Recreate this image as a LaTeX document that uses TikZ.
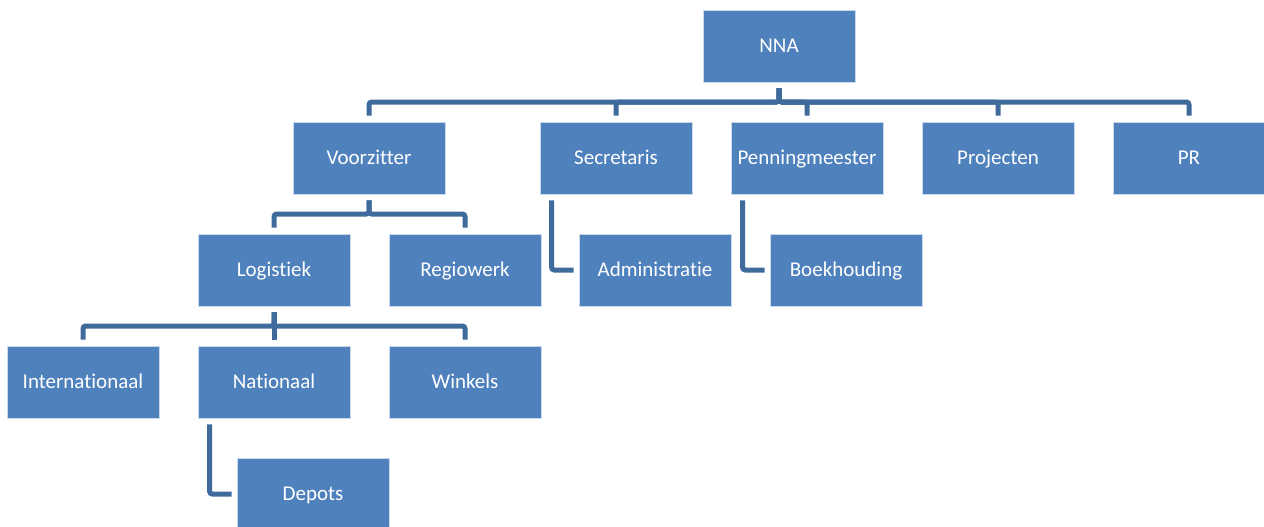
\documentclass[tikz,border=0pt]{standalone}
\usepackage{fontspec}
\setmainfont{Carlito}[Ligatures=NoCommon]
\definecolor{boxblue}{HTML}{4F81BD}
\definecolor{lineblue}{HTML}{3F6B9C}
\tikzset{
	every picture/.append style={font=\fontsize{15.75}{19}\selectfont},
	mynode/.style = {rectangle, draw=white!70!boxblue, line width=0.6pt, fill=boxblue, text=white, minimum width=114pt, minimum height=54pt, inner sep=0pt, text height=12pt, text depth=2pt, align=center},
	myedge/.style = {draw=lineblue, line width=3.75pt, rounded corners=2pt},
	sideedge/.style = {myedge, shorten >=3.75pt}
}

\begin{document}
\begin{tikzpicture}[x=0.75pt,y=-0.75pt]
				\useasboundingbox (0,0) rectangle (1264,526);
				\node[mynode] at (779,46) (nna) {NNA};
				\node[mynode] at (369,158) (voorz) {Voorzitter};
				\node[mynode] at (616,158) (secr) {Secretaris};
				\node[mynode] at (807,158) (penn) {Penningmeester};
				\node[mynode] at (998,158) (proj) {Projecten};
				\node[mynode] at (1189,158) (pr) {PR};
				\node[mynode] at (274,270) (logi) {Logistiek};
				\node[mynode] at (465,270) (regio) {Regiowerk};
				\node[mynode] at (655,270) (admin) {Administratie};
				\node[mynode] at (846,270) (boek) {Boekhouding};
				\node[mynode] at (83,382) (inter) {Internationaal};
				\node[mynode] at (274,382) (nati) {Nationaal};
				\node[mynode] at (465,382) (winkel) {Winkels};
				\node[mynode] at (313,494) (depot) {Depots};
				\coordinate (bus0) at (779,102);
				\coordinate (bus1) at (369,214);
				\coordinate (bus2) at (274,326);
				\draw[myedge] ([yshift=-4.5pt]nna.south) |- (voorz |- bus0) -- ([yshift=4.5pt]voorz.north);
				\draw[myedge] ([yshift=-4.5pt]nna.south) |- (secr |- bus0) -- ([yshift=4.5pt]secr.north);
				\draw[myedge] ([yshift=-4.5pt]nna.south) |- (penn |- bus0) -- ([yshift=4.5pt]penn.north);
				\draw[myedge] ([yshift=-4.5pt]nna.south) |- (proj |- bus0) -- ([yshift=4.5pt]proj.north);
				\draw[myedge] ([yshift=-4.5pt]nna.south) |- (pr |- bus0) -- ([yshift=4.5pt]pr.north);
				\draw[myedge] ([yshift=-4.5pt]voorz.south) |- (logi |- bus1) -- ([yshift=4.5pt]logi.north);
				\draw[myedge] ([yshift=-4.5pt]voorz.south) |- (regio |- bus1) -- ([yshift=4.5pt]regio.north);
				\draw[myedge] ([yshift=-4.5pt]logi.south) |- (inter |- bus2) -- ([yshift=4.5pt]inter.north);
				\draw[myedge] ([yshift=-4.5pt]logi.south) -- ([yshift=4.5pt]nati.north);
				\draw[myedge] ([yshift=-4.5pt]logi.south) |- (winkel |- bus2) -- ([yshift=4.5pt]winkel.north);
				\draw[sideedge] ([xshift=9pt,yshift=-4.5pt]secr.south west) |- (admin.west);
				\draw[sideedge] ([xshift=9pt,yshift=-4.5pt]penn.south west) |- (boek.west);
				\draw[sideedge] ([xshift=9pt,yshift=-4.5pt]nati.south west) |- (depot.west);
			\end{tikzpicture}
\end{document}
